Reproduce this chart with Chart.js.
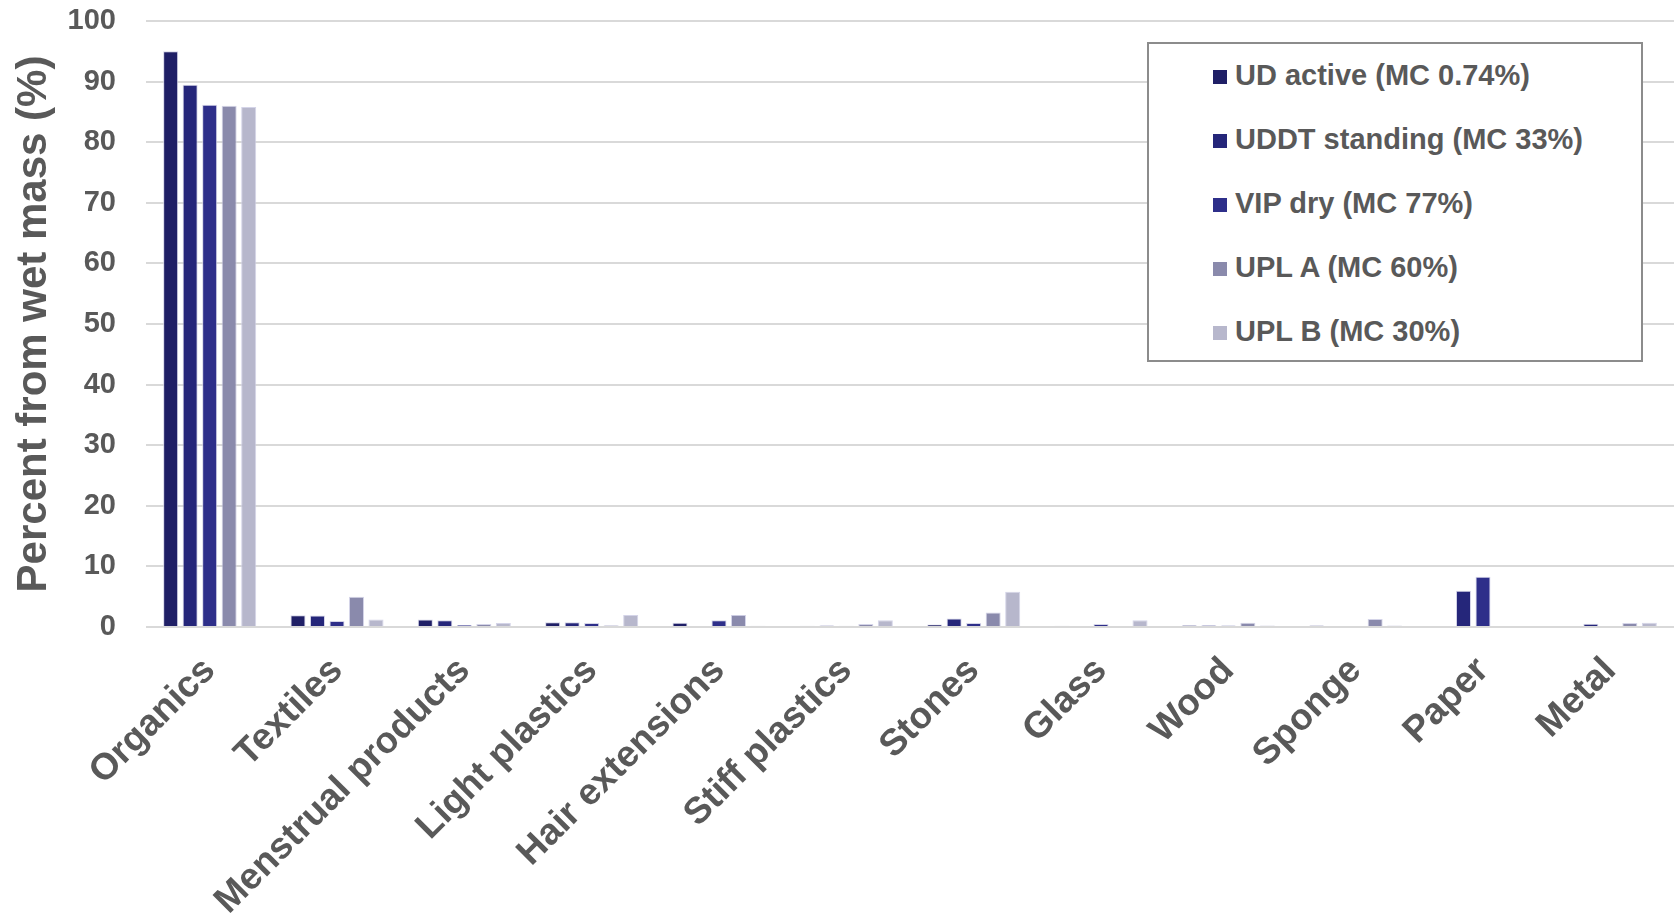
<!DOCTYPE html>
<html>
<head>
<meta charset="utf-8">
<script src="https://cdn.jsdelivr.net/npm/chart.js@4.4.1/dist/chart.umd.min.js"></script>
<style>
  html, body { margin: 0; padding: 0; background: #ffffff; }
  #wrap { position: relative; width: 1677px; height: 915px; }
  #legend {
    position: absolute; left: 1147px; top: 42px; width: 492px; height: 316px;
    border: 2px solid #8c8c8c; background: #fff; box-sizing: content-box;
    font-family: "Liberation Sans", Arial, sans-serif; font-weight: bold;
    font-size: 29px; color: #595959;
  }
  .item { position: absolute; left: 64px; height: 40px; line-height: 40px; white-space: nowrap; }
  .sw { display: inline-block; width: 14px; height: 14px; margin-right: 8px; vertical-align: 1px; }
</style>
</head>
<body>
<div id="wrap">
  <canvas id="c" width="1677" height="915"></canvas>
  <div id="legend"></div>
</div>
<script>
const categories = ["Organics", "Textiles", "Menstrual products", "Light plastics", "Hair extensions",
  "Stiff plastics", "Stones", "Glass", "Wood", "Sponge", "Paper", "Metal"];
const seriesNames = ["UD active (MC 0.74%)", "UDDT standing (MC 33%)", "VIP dry (MC 77%)", "UPL A (MC 60%)", "UPL B (MC 30%)"];
const udActive     = [95.0, 1.95, 1.25, 0.8, 0.7, 0.2, 0.4, 0.2, 0.28, 0.25, 0,   0   ];
const uddtStanding = [89.5, 1.9, 1.1, 0.8, 0,   0.25, 1.4, 0,  0.28, 0,    6.0, 0.55];
const vipDry       = [86.2, 1.0, 0.33, 0.65, 1.1, 0.2, 0.65, 0.5, 0.25, 0,   8.3, 0.15];
const uplA         = [86.0, 5.0, 0.5, 0.27, 2.0, 0.5, 2.4, 0,   0.7, 1.3,  0,   0.65];
const uplB         = [85.8, 1.25, 0.65, 2.0, 0.2, 1.1, 5.8, 1.1, 0.25, 0.25, 0,  0.7 ];
const yTicks = [0, 10, 20, 30, 40, 50, 60, 70, 80, 90, 100];

const colors = ["#1f1f66", "#25267a", "#2e2f8a", "#8a8aac", "#b7b7cc"];
const seriesValues = [udActive, uddtStanding, vipDry, uplA, uplB];

const datasets = seriesNames.map((name, i) => ({
  label: name,
  data: seriesValues[i],
  backgroundColor: colors[i],
  borderColor: "rgba(205,205,228,0.85)",
  borderWidth: 1,
  barPercentage: 0.77,
  categoryPercentage: 0.766
}));

const FONT = "'Liberation Sans', Arial, sans-serif";
const GREY = "#595959";

new Chart(document.getElementById("c"), {
  type: "bar",
  data: { labels: categories, datasets },
  options: {
    responsive: false,
    devicePixelRatio: 1,
    animation: false,
    layout: { padding: { top: 21, right: 3, left: 0, bottom: 0 } },
    plugins: { legend: { display: false }, tooltip: { enabled: false } },
    scales: {
      x: {
        grid: { display: false, drawTicks: false },
        border: { display: false },
        ticks: {
          autoSkip: false, maxRotation: 45, minRotation: 45, padding: 22,
          color: GREY, font: { family: FONT, size: 37, weight: "bold" }
        },
        afterFit(s) { s.height = 288; s.paddingLeft = 0; s.paddingRight = 0; }
      },
      y: {
        min: 0, max: 100,
        afterBuildTicks(s) { s.ticks = yTicks.map(v => ({ value: v })); },
        grid: { color: "#d9d9d9", lineWidth: 2, drawTicks: false },
        border: { display: false },
        ticks: { padding: 30, color: GREY, font: { family: FONT, size: 29, weight: "bold" } },
        title: {
          display: true, text: "Percent from wet mass (%)", color: GREY,
          font: { family: FONT, size: 42, weight: "bold" }, padding: { top: 9, bottom: 0 }
        },
        afterFit(s) { s.width = 146; s.paddingTop = 0; s.paddingBottom = 0; }
      }
    }
  }
});

const lg = document.getElementById("legend");
seriesNames.forEach((name, i) => {
  const d = document.createElement("div");
  d.className = "item";
  d.style.top = (11 + i * 64) + "px";
  const sw = document.createElement("span");
  sw.className = "sw";
  sw.style.background = colors[i];
  d.appendChild(sw);
  d.appendChild(document.createTextNode(name));
  lg.appendChild(d);
});
</script>
</body>
</html>
